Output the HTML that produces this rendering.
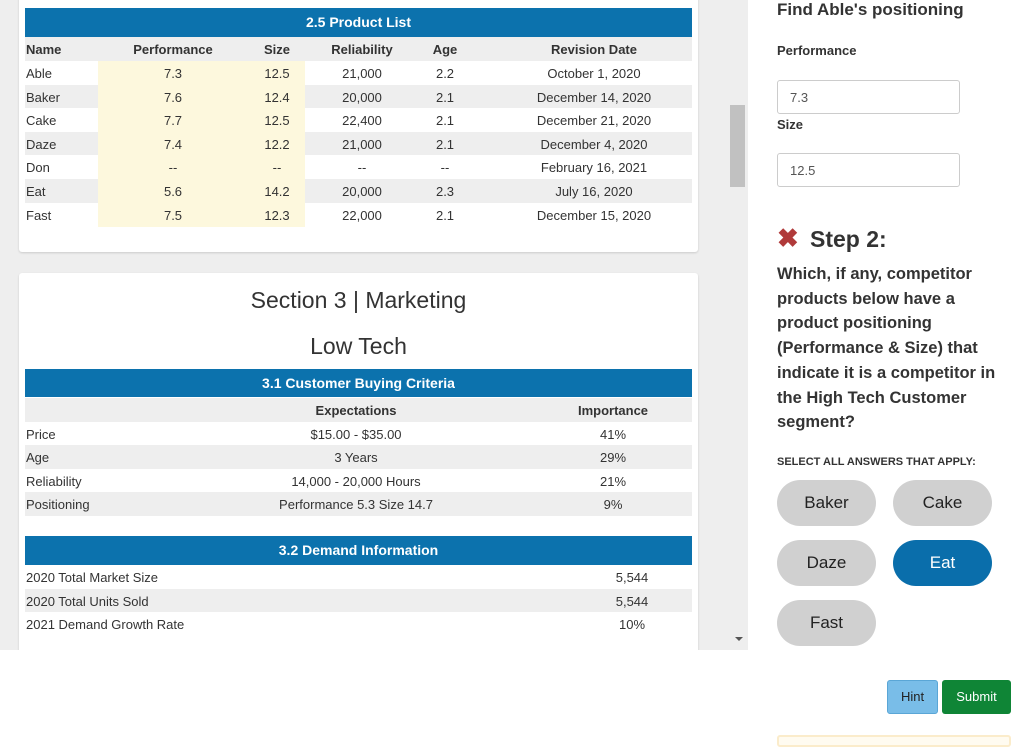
<!DOCTYPE html>
<html><head><style>
*{margin:0;padding:0;box-sizing:border-box}
body{width:1024px;height:743px;position:relative;background:#fff;font-family:"Liberation Sans",sans-serif;overflow:hidden;color:#222}
.left{position:absolute;left:0;top:0;width:748px;height:650px;background:#eee;overflow:hidden}
.card{position:absolute;left:19px;width:679px;background:#fff;border-radius:3px;box-shadow:0 1px 2px rgba(0,0,0,.15)}
.bar{position:absolute;left:6px;width:667px;background:#0c72ad;color:#fff;font-weight:bold;font-size:14px;text-align:center;white-space:nowrap}
.row{position:absolute;left:6px;width:667px;height:23.6px;font-size:13px;color:#333;white-space:nowrap}
.row span{position:absolute;top:5px;white-space:nowrap}
.g{background:#eee}
.c{transform:translateX(-50%)}
.r{position:absolute;font-weight:bold;color:#333}
.btn{position:absolute;width:99px;height:46px;border-radius:23px;background:#d0d0d0;font-size:17px;text-align:center;line-height:46px;color:#222}
.inp{position:absolute;left:777px;width:183px;height:34px;border:1px solid #ccc;border-radius:3px;font-size:13px;color:#555;padding:9px 12px}
.gg{background:linear-gradient(90deg,#eee 73px,transparent 73px,transparent 280px,#eee 280px)}
</style></head><body>
<div class="left">
 <div class="card" style="top:-5px;height:257px">
  <div class="bar" style="top:13px;height:29px;line-height:29px">2.5 Product List</div>
  <div style="position:absolute;left:79px;top:66px;width:207px;height:166px;background:#fdf8dd"></div>
  <div class="row g" style="top:42px;font-weight:bold"><span style="left:1px">Name</span><span class="c" style="left:148px">Performance</span><span class="c" style="left:252px">Size</span><span class="c" style="left:337px">Reliability</span><span class="c" style="left:420px">Age</span><span class="c" style="left:569px">Revision Date</span></div>
  <div class="row" style="top:66px"><span style="left:1px">Able</span><span class="c" style="left:148px">7.3</span><span class="c" style="left:252px">12.5</span><span class="c" style="left:337px">21,000</span><span class="c" style="left:420px">2.2</span><span class="c" style="left:569px">October 1, 2020</span></div>
  <div class="row gg" style="top:89.6px"><span style="left:1px">Baker</span><span class="c" style="left:148px">7.6</span><span class="c" style="left:252px">12.4</span><span class="c" style="left:337px">20,000</span><span class="c" style="left:420px">2.1</span><span class="c" style="left:569px">December 14, 2020</span></div>
  <div class="row" style="top:113.2px"><span style="left:1px">Cake</span><span class="c" style="left:148px">7.7</span><span class="c" style="left:252px">12.5</span><span class="c" style="left:337px">22,400</span><span class="c" style="left:420px">2.1</span><span class="c" style="left:569px">December 21, 2020</span></div>
  <div class="row gg" style="top:136.8px"><span style="left:1px">Daze</span><span class="c" style="left:148px">7.4</span><span class="c" style="left:252px">12.2</span><span class="c" style="left:337px">21,000</span><span class="c" style="left:420px">2.1</span><span class="c" style="left:569px">December 4, 2020</span></div>
  <div class="row" style="top:160.4px"><span style="left:1px">Don</span><span class="c" style="left:148px">--</span><span class="c" style="left:252px">--</span><span class="c" style="left:337px">--</span><span class="c" style="left:420px">--</span><span class="c" style="left:569px">February 16, 2021</span></div>
  <div class="row gg" style="top:184px"><span style="left:1px">Eat</span><span class="c" style="left:148px">5.6</span><span class="c" style="left:252px">14.2</span><span class="c" style="left:337px">20,000</span><span class="c" style="left:420px">2.3</span><span class="c" style="left:569px">July 16, 2020</span></div>
  <div class="row" style="top:207.6px"><span style="left:1px">Fast</span><span class="c" style="left:148px">7.5</span><span class="c" style="left:252px">12.3</span><span class="c" style="left:337px">22,000</span><span class="c" style="left:420px">2.1</span><span class="c" style="left:569px">December 15, 2020</span></div>
 </div>
 <div class="card" style="top:273px;height:400px">
  <div style="position:absolute;left:0;width:679px;top:14px;text-align:center;font-size:23px;color:#333">Section 3 | Marketing</div>
  <div style="position:absolute;left:0;width:679px;top:60px;text-align:center;font-size:23px;color:#333">Low Tech</div>
  <div class="bar" style="top:96px;height:28px;line-height:28px">3.1 Customer Buying Criteria</div>
  <div class="row g" style="top:125px;font-weight:bold"><span class="c" style="left:331px">Expectations</span><span class="c" style="left:588px">Importance</span></div>
  <div class="row" style="top:148.6px"><span style="left:1px">Price</span><span class="c" style="left:331px">$15.00 - $35.00</span><span class="c" style="left:588px">41%</span></div>
  <div class="row g" style="top:172.2px"><span style="left:1px">Age</span><span class="c" style="left:331px">3 Years</span><span class="c" style="left:588px">29%</span></div>
  <div class="row" style="top:195.8px"><span style="left:1px">Reliability</span><span class="c" style="left:331px">14,000 - 20,000 Hours</span><span class="c" style="left:588px">21%</span></div>
  <div class="row g" style="top:219.4px"><span style="left:1px">Positioning</span><span class="c" style="left:331px">Performance 5.3 Size 14.7</span><span class="c" style="left:588px">9%</span></div>
  <div class="bar" style="top:263px;height:29px;line-height:29px">3.2 Demand Information</div>
  <div class="row" style="top:292px"><span style="left:1px">2020 Total Market Size</span><span class="c" style="left:607px">5,544</span></div>
  <div class="row g" style="top:315.6px"><span style="left:1px">2020 Total Units Sold</span><span class="c" style="left:607px">5,544</span></div>
  <div class="row" style="top:339.2px"><span style="left:1px">2021 Demand Growth Rate</span><span class="c" style="left:607px">10%</span></div>
 </div>
 <div style="position:absolute;left:730px;top:105px;width:15px;height:82px;background:#c1c1c1"></div>
 <div style="position:absolute;left:735px;top:637px;border:4px solid transparent;border-top:4px solid #555;border-bottom:0"></div>
</div>
<div class="r" style="left:777px;top:0;font-size:17px">Find Able's positioning</div>
<div class="r" style="left:777px;top:43px;font-size:13px">Performance</div>
<div class="inp" style="top:80px">7.3</div>
<div class="r" style="left:777px;top:117px;font-size:13px">Size</div>
<div class="inp" style="top:153px">12.5</div>
<div style="position:absolute;left:777px;top:223px;color:#b03a3a;font-size:26px;font-weight:bold">✖</div>
<div class="r" style="left:810px;top:226px;font-size:23px">Step 2:</div>
<div class="r" style="left:777px;top:262px;font-size:16.5px;line-height:24.7px;width:240px">Which, if any, competitor products below have a product positioning (Performance &amp; Size) that indicate it is a competitor in the High Tech Customer segment?</div>
<div class="r" style="left:777px;top:456px;font-size:11px">SELECT ALL ANSWERS THAT APPLY:</div>
<div class="btn" style="left:777px;top:480px">Baker</div>
<div class="btn" style="left:893px;top:480px">Cake</div>
<div class="btn" style="left:777px;top:540px">Daze</div>
<div class="btn" style="left:893px;top:540px;background:#0a6eab;color:#fff">Eat</div>
<div class="btn" style="left:777px;top:600px">Fast</div>
<div style="position:absolute;left:887px;top:680px;width:51px;height:34px;background:#79bde8;border:1px solid #5aa6d6;border-radius:3px;font-size:13px;text-align:center;line-height:32px">Hint</div>
<div style="position:absolute;left:942px;top:680px;width:69px;height:34px;background:#0f8536;border-radius:3px;color:#fff;font-size:13px;text-align:center;line-height:34px">Submit</div>
<div style="position:absolute;left:777px;top:735px;width:234px;height:12px;border:2px solid #fbeccb;border-radius:3px;background:#fffbf0"></div>
</body></html>
